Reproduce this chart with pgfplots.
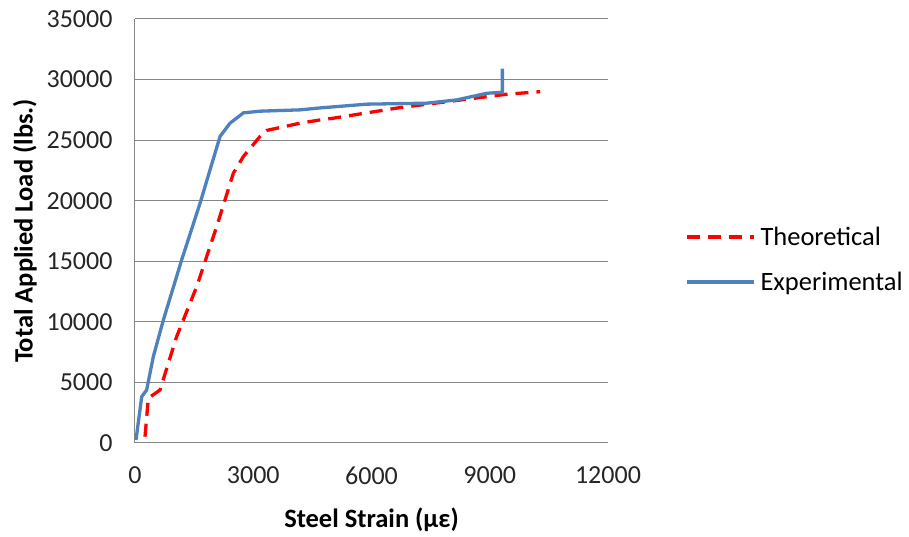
\documentclass[border=0pt]{standalone}
\usepackage{pgfplots}
\pgfplotsset{compat=1.18}
\usepackage{fontspec}
\setmainfont{Carlito}
\definecolor{expblue}{RGB}{79,129,189}
\definecolor{gridgray}{RGB}{134,134,134}
\begin{document}
\begin{tikzpicture}
\useasboundingbox (-135pt,-94pt) rectangle (774pt,443pt);
\begin{axis}[
  at={(0pt,0pt)}, anchor=south west,
  scale only axis, width=473pt, height=424pt,
  xmin=0, xmax=12000, ymin=0, ymax=35000,
  xtick={0,3000,6000,9000,12000},
  ytick={0,5000,10000,15000,20000,25000,30000,35000},
  ymajorgrids, major grid style={gridgray, line width=1pt},
  axis x line*=bottom, axis y line*=left,
  axis line style={gridgray, line width=1pt, -},
  major tick length=0pt,
  /pgf/number format/assume math mode=true,
  scaled ticks=false,
  xticklabel style={/pgf/number format/fixed, /pgf/number format/1000 sep={}},
  yticklabel style={/pgf/number format/fixed, /pgf/number format/1000 sep={}},
  ticklabel style={font=\fontsize{26}{29}\selectfont, text=black!85},
  xlabel={\textbf{Steel Strain (µε)}},
  ylabel={\textbf{Total Applied Load (lbs.)}},
  label style={font=\fontsize{26.5}{29}\selectfont},
  xlabel style={at={(rel axis cs:0.5,0)}, anchor=center, yshift=-77pt},
  ylabel style={at={(rel axis cs:0,0.5)}, anchor=center, yshift=110pt},
  yticklabel style={xshift=-19pt},
  xticklabel style={yshift=-20pt},
  legend style={at={(1,0.433)}, anchor=west, xshift=77pt, draw=none, fill=none,
    font=\fontsize{26.5}{29}\selectfont, row sep=21pt, inner sep=0pt,
    nodes={inner xsep=5pt}},
  legend cell align=left,
  legend image code/.code={\draw[#1] (0pt,0pt) -- (67pt,0pt);},
]
\addplot[red, line width=3.3pt, dash pattern=on 13pt off 8pt] coordinates {
(254,520) (338,3690) (635,4380) (1056,8780) (1565,12900) (2073,17870)
(2495,22270) (2750,23650) (3170,25300) (3340,25800) (4190,26400)
(4700,26670) (5030,26810) (6730,27690) (8420,28380) (9430,28790) (10280,29000)
};
\addlegendentry{Theoretical}
\addplot[expblue, line width=3.3pt] coordinates {
(25,250) (170,3820) (296,4380) (465,7130) (720,10160) (1184,15110)
(1650,19790) (2157,25300) (2411,26400) (2750,27250) (3170,27390) (4190,27500)
(4700,27660) (5880,27970) (7400,28050) (8160,28320) (8930,28870) (9320,28950)
(9320,30900)
};
\addlegendentry{Experimental}
\end{axis}
\end{tikzpicture}
\end{document}
